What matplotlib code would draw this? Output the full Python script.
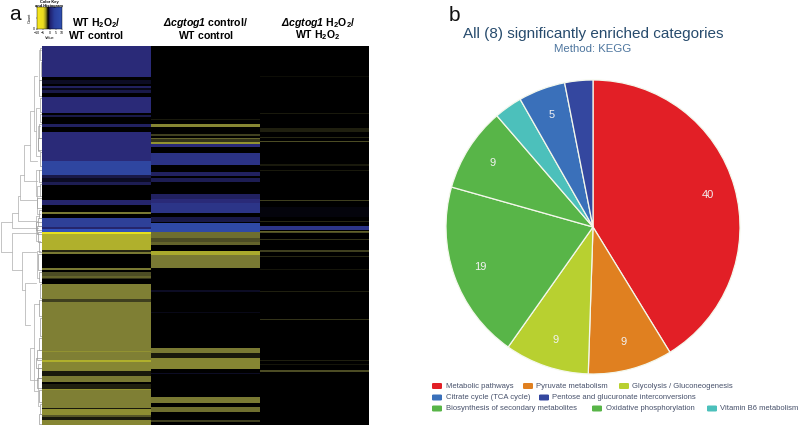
import matplotlib
matplotlib.use("Agg")
import numpy as np
import matplotlib.pyplot as plt
from matplotlib.colors import LinearSegmentedColormap
from matplotlib.patches import FancyBboxPatch

plt.rcParams['font.family'] = ['Liberation Sans', 'DejaVu Sans']
plt.rcParams['mathtext.fontset'] = 'custom'
plt.rcParams['mathtext.rm'] = 'Liberation Sans'
plt.rcParams['mathtext.bf'] = 'Liberation Sans:bold'
plt.rcParams['mathtext.it'] = 'Liberation Sans:italic'
plt.rcParams['mathtext.bfit'] = 'Liberation Sans:italic:bold'

# heatmap: (first row, last row, log ratio scaled to -1..1), everything else is 0
n_rows = 379
wt_h2o2_bands = [
    (0, 31, .5), (34, 38, .15), (40, 42, .4), (42, 44, .1), (44, 47, .3), (51, 67, .5),
    (69, 71, .3), (78, 81, .4), (86, 115, .5), (115, 129, .75), (129, 132, .3),
    (132, 136, .15), (136, 139, .35), (154, 159, .45), (166, 168, -.5), (172, 181, .7),
    (181, 183, .45), (183, 186, .95), (186, 188, -.95), (188, 204, -.72), (204, 206, -.15),
    (206, 208, -.5), (222, 224, -.5), (226, 230, -.3), (230, 232, -.4), (232, 233, -.2),
    (238, 253, -.52), (253, 256, -.25), (256, 305, -.52), (305, 306, -.6), (306, 314, -.52),
    (314, 316, -.72), (316, 325, -.55), (325, 330, -.1), (330, 336, -.5), (338, 343, -.12),
    (343, 344, -.6), (344, 362, -.52), (362, 363, -.1), (363, 369, -.58), (369, 371, -.35),
    (371, 374, -.1), (374, 379, -.55),
]
cgtog_control_bands = [
    (73, 74, -.1), (78, 81, -.55), (88, 90, -.25), (92, 93, -.4), (93, 96, -.2),
    (96, 98, -.6), (98, 101, .5), (107, 119, .58), (126, 130, .4), (132, 136, .35),
    (148, 153, .4), (153, 157, .5), (157, 167, .6), (171, 176, .3), (177, 186, .8),
    (186, 192, -.45), (192, 196, -.3), (196, 199, -.4), (205, 209, -.7), (209, 222, -.5),
    (244, 246, .15), (266, 267, .1), (302, 307, -.5), (307, 312, -.1), (312, 323, -.55),
    (327, 328, .15), (351, 357, -.5), (361, 366, -.45), (374, 376, -.25),
]
cgtog_h2o2_bands = [
    (30, 31, -.05), (67, 68, -.1), (82, 86, -.12), (91, 92, -.15), (95, 96, -.3),
    (118, 120, -.1), (124, 125, -.1), (154, 155, -.25), (161, 171, .05), (175, 176, -.15),
    (180, 184, .6), (185, 186, -.4), (186, 187, -.3), (193, 194, -.2), (204, 206, -.25),
    (210, 211, -.15), (223, 224, -.08), (245, 246, -.12), (273, 274, -.2), (314, 315, -.12),
    (318, 319, -.08), (324, 326, -.3),
]
title_line1 = [r"$\mathbf{WT\ H_2O_2/}$",
               r"$\mathbfit{\Delta cgtog1}\ \mathbf{control/}$",
               r"$\mathbfit{\Delta cgtog1}\ \mathbf{H_2O_2/}$"]
title_line2 = [r"$\mathbf{WT\ control}$", r"$\mathbf{WT\ control}$", r"$\mathbf{WT\ H_2O_2}$"]

# dendrogram: height, top row, bottom row, height of top child, height of bottom child
dendro_merges = [
    (41, 176, 206, 30, 30), (30, 167, 182, 24, 4), (24, 150, 175, 22, 5), (22, 129, 154, 18, 6),
    (18, 99, 135, 12, 5), (12, 65, 115, 8, 5), (8, 30, 85, 5, 6), (6, 62, 110, 3, 2),
    (30, 187, 224, 5, 20), (20, 206, 244, 6, 17), (17, 237, 279, 6, 12), (12, 302, 334, 8, 4),
    (8, 258, 345, 3, 4), (6, 170, 195, 3, 2), (6, 124, 150, 3, 2), (5, 205, 232, 2, 3),
    (5, 140, 168, 2, 2), (4, 318, 360, 2, 3), (4, 80, 105, 2, 2), (3, 4, 34, 1, 1),
]
dendro_leaves = [
    (2, 2, 14), (1, 16, 30), (3, 34, 50), (2, 52, 66), (2, 68, 76), (3, 78, 92), (4, 92, 104),
    (2, 106, 120), (3, 124, 136), (2, 138, 150), (5, 152, 162), (3, 164, 172), (4, 172, 180),
    (6, 176, 184), (5, 180, 188), (4, 186, 196), (3, 196, 206), (4, 208, 224), (3, 226, 236),
    (2, 238, 252), (3, 254, 270), (2, 272, 290), (3, 292, 304), (5, 304, 314), (6, 312, 322),
    (4, 322, 332), (5, 332, 342), (3, 344, 356), (2, 358, 368), (3, 368, 378),
]

# pie
categories = [
    "Metabolic pathways", "Pyruvate metabolism", "Glycolysis / Gluconeogenesis",
    "Biosynthesis of secondary metabolites", "Oxidative phosphorylation",
    "Vitamin B6 metabolism", "Citrate cycle (TCA cycle)",
    "Pentose and glucuronate interconversions",
]
counts = [40, 9, 9, 19, 9, 3, 5, 3]
pie_colors = ["#e21f26", "#e08020", "#b8d030", "#58b548", "#58b548", "#4cc0bb", "#3a70ba", "#34479f"]
shown_labels = [True, True, True, True, True, False, True, False]


def px_axes(x0, y0, x1, y1):
    return fig.add_axes([x0 / 800, 1 - y1 / 425, (x1 - x0) / 800, (y1 - y0) / 425])


def px_text(x, y, s, **kw):
    kw.setdefault("ha", "center")
    kw.setdefault("va", "center")
    return fig.text(x / 800, 1 - y / 425, s, **kw)


def band_column(bands):
    col = np.zeros(n_rows)
    for first, last, val in bands:
        col[first:last] = val
    return col


fig = plt.figure(figsize=(8, 4.25), dpi=100)

cmap = LinearSegmentedColormap.from_list("heat", [
    (0, "#f2ea1c"), (.14, "#afaf2d"), (.24, "#7f7f35"), (.375, "#404020"), (.5, "#000000"),
    (.75, "#2a2a78"), (.875, "#2f46a0"), (1, "#3355c0"),
])
key_cmap = LinearSegmentedColormap.from_list("key", [
    (0, "#f6e61c"), (.25, "#ecdc20"), (.36, "#8f8a20"), (.44, "#000000"),
    (.52, "#20206e"), (.7, "#2a3f9c"), (1, "#2f4fb0"),
])

# panel a
ax = px_axes(42, 46, 369, 425)
matrix = np.column_stack([band_column(wt_h2o2_bands), band_column(cgtog_control_bands),
                          band_column(cgtog_h2o2_bands)])
ax.imshow(matrix, cmap=cmap, vmin=-1, vmax=1, aspect="auto", interpolation="nearest")
ax.axis("off")

dn = px_axes(0, 46, 42, 425)
dn.set_xlim(42, 0)
dn.set_ylim(n_rows, 0)
dn.axis("off")
for h, top, bottom, h_top, h_bottom in dendro_merges:
    dn.plot([h_top, h, h, h_bottom], [top, top, bottom, bottom], color="#b4b4b4", lw=.55)
for h, top, bottom in dendro_leaves:
    dn.plot([0, h, h, 0], [top, top, bottom, bottom], color="#9a9a9a", lw=.5)

for x, line1, line2 in zip([96, 206, 318], title_line1, title_line2):
    px_text(x, 23, line1, fontsize=7.6)
    px_text(x, 35, line2, fontsize=7.6)

# colour key
key = px_axes(37, 7, 62, 29)
key.imshow(np.linspace(0, 1, 100)[None, :], cmap=key_cmap, vmin=0, vmax=1, aspect="auto",
           extent=[-10, 10, 0, 3000])
key.set_xticks([-10, -5, 0, 5, 10])
key.set_yticks([0, 1500, 3000])
key.set_yticklabels(["0", "", ""])
key.tick_params(labelsize=2.6, length=1, width=.3, pad=.5)
key.set_xlabel("Value", fontsize=2.8, labelpad=.5)
key.set_ylabel("Count", fontsize=2.8, labelpad=.5)
for s in key.spines.values():
    s.set_linewidth(.3)
px_text(49, 3.5, "Color Key\nand Histogram", fontsize=2.9, fontweight="bold", linespacing=1.0)

px_text(15, 20, "a", fontsize=15, color="#111111", va="baseline")
px_text(454, 21, "b", fontsize=15, color="#111111", va="baseline")

# panel b
pie_ax = px_axes(446, 80, 740, 374)
wedges, _ = pie_ax.pie(counts, colors=pie_colors, startangle=90, counterclock=False, radius=1,
                       wedgeprops={"edgecolor": "#f4f8ec", "linewidth": .9})
pie_ax.set_xlim(-1, 1)
pie_ax.set_ylim(-1, 1)
for w, n, show in zip(wedges, counts, shown_labels):
    if show:
        ang = np.deg2rad((w.theta1 + w.theta2) / 2)
        pie_ax.text(.81 * np.cos(ang), .81 * np.sin(ang), str(n), color="#f2f2f2", fontsize=8,
                    ha="center", va="center")

px_text(593, 34, "All (8) significantly enriched categories", fontsize=11, color="#274b6d")
px_text(593, 49.5, "Method: KEGG", fontsize=8.2, color="#4d759e")

# legend, same row layout as the figure
legend_rows = [
    [(432, 0), (523, 1), (619, 2)],
    [(432, 6), (539, 7)],
    [(432, 3), (592, 4), (707, 5)],
]
for y, row in zip([386, 397.5, 408.5], legend_rows):
    for x, idx in row:
        fig.add_artist(FancyBboxPatch((x / 800, 1 - (y + 3) / 425), 10 / 800, 6 / 425,
                                      boxstyle="round,pad=0,rounding_size=0.002",
                                      transform=fig.transFigure, fc=pie_colors[idx], ec="none"))
        px_text(x + 13.5, y, categories[idx], ha="left", fontsize=5.5, color="#46506a")

fig.savefig("out.png", dpi=100)
